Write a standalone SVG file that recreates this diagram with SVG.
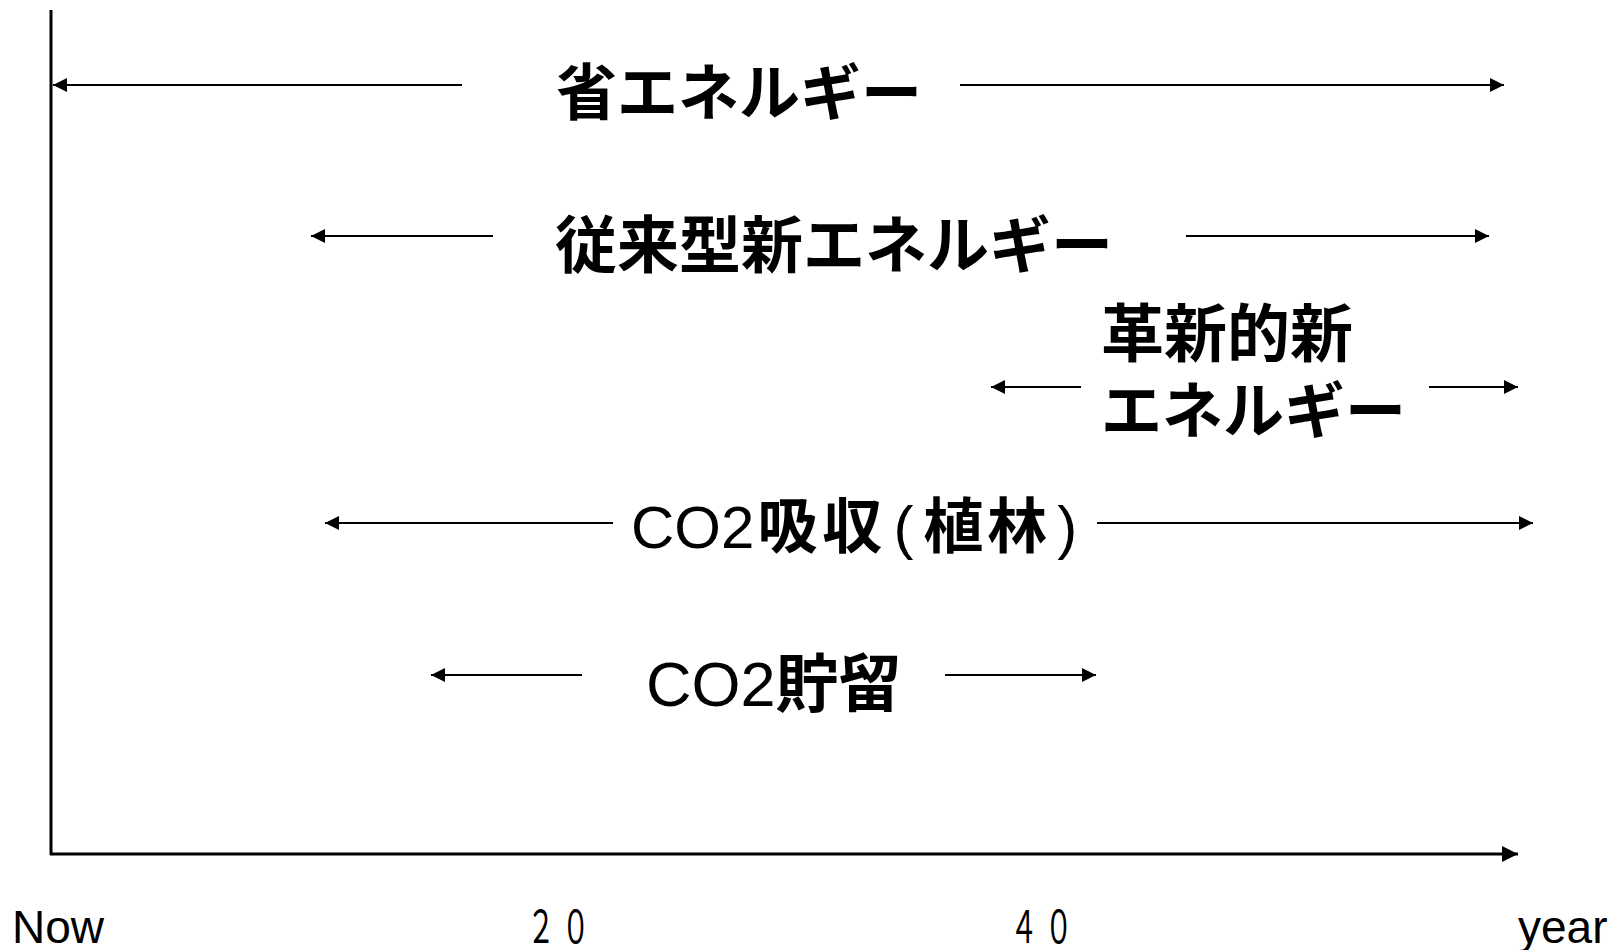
<svg xmlns="http://www.w3.org/2000/svg" width="1610" height="950" viewBox="0 0 1610 950">
<style>
.cjk{font-family:"Noto Sans CJK JP","Noto Sans CJK SC",sans-serif;font-weight:bold;fill:#000}
.num{font-family:"Noto Sans CJK JP","Noto Sans CJK SC",sans-serif;font-weight:normal;fill:#000}
.lat{font-family:"Liberation Sans",Arial,sans-serif;font-weight:normal;fill:#000}
.arr{stroke:#000;stroke-width:2;fill:none;marker-end:url(#ah)}
.axis{stroke:#000;stroke-width:3;fill:none}
</style>
<defs>
<marker id="ah" markerUnits="userSpaceOnUse" markerWidth="15" markerHeight="14" refX="14" refY="7" orient="auto">
<path d="M0,0 L14,7 L0,14 z" fill="#000"/>
</marker>
<marker id="axh" markerUnits="userSpaceOnUse" markerWidth="17" markerHeight="16" refX="16" refY="8" orient="auto">
<path d="M0,0 L16,8 L0,16 z" fill="#000"/>
</marker>
</defs>
<g id="axes">
<line class="axis" x1="51" y1="10" x2="51" y2="855"/>
<line class="axis" x1="50" y1="854" x2="1518" y2="854" marker-end="url(#axh)"/>
<text class="lat" x="12" y="943" font-size="46">Now</text>
<text class="num" font-size="45" letter-spacing="11" transform="translate(527,943) scale(0.62,1)">２０</text>
<text class="num" font-size="45" letter-spacing="11" transform="translate(1010,943) scale(0.62,1)">４０</text>
<text class="lat" x="1518" y="943" font-size="46">year</text>
</g>
<g id="connectors">
<line class="arr" x1="462" y1="85" x2="53" y2="85"/>
<line class="arr" x1="960" y1="85" x2="1504" y2="85"/>
<line class="arr" x1="493" y1="236" x2="311" y2="236"/>
<line class="arr" x1="1186" y1="236" x2="1489" y2="236"/>
<line class="arr" x1="1081" y1="387" x2="991" y2="387"/>
<line class="arr" x1="1429" y1="387" x2="1518" y2="387"/>
<line class="arr" x1="613" y1="523" x2="325" y2="523"/>
<line class="arr" x1="1097" y1="523" x2="1533" y2="523"/>
<line class="arr" x1="582" y1="675" x2="431" y2="675"/>
<line class="arr" x1="945" y1="675" x2="1096" y2="675"/>
</g>
<g id="node-shou-energy">
<text class="cjk" x="556" y="115" font-size="61">省エネルギー</text>
</g>
<g id="node-conventional">
<text class="cjk" x="555" y="268" font-size="62">従来型新エネルギー</text>
</g>
<g id="node-innovative">
<text class="cjk" x="1101" y="356" font-size="63">革新的新</text>
<text class="cjk" x="1101" y="433" font-size="61">エネルギー</text>
</g>
<g id="node-co2-absorb">
<text x="631" y="548" font-size="60"><tspan class="lat">CO2</tspan><tspan class="cjk" dx="3" letter-spacing="5">吸収</tspan><tspan class="lat" dx="6">(</tspan><tspan class="cjk" dx="10" letter-spacing="4">植林</tspan><tspan class="lat" dx="6">)</tspan></text>
</g>
<g id="node-co2-storage">
<text x="646" y="706" font-size="63"><tspan class="lat">CO2</tspan><tspan class="cjk">貯留</tspan></text>
</g>
</svg>
